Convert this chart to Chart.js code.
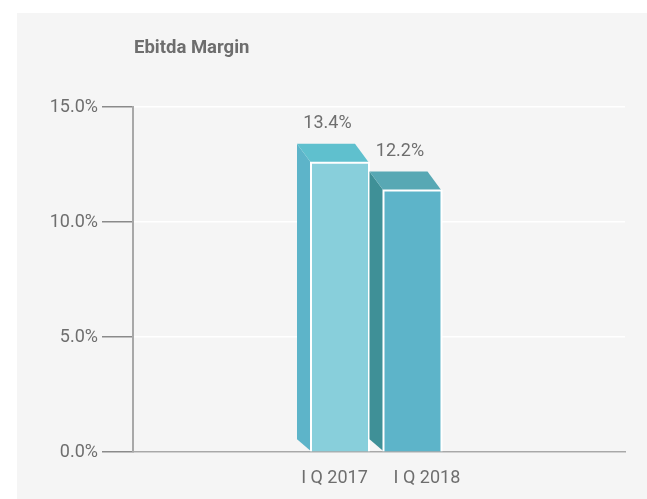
<!DOCTYPE html>
<html>
<head>
<meta charset="utf-8">
<script src="https://cdn.jsdelivr.net/npm/chart.js@4"></script>
<style>
  html, body { margin: 0; padding: 0; background: #ffffff; overflow: hidden; }
  #panel { position: absolute; left: 17px; top: 13px; width: 630px; height: 486px; background: #f5f5f5; overflow: hidden; }
  canvas { display: block; }
</style>
</head>
<body>
<div id="panel"><canvas id="c" width="630" height="492"></canvas></div>
<script>
const categories = ['I Q 2017', 'I Q 2018'];
const values = [13.4, 12.2];
const yTicks = [0, 5, 10, 15];
const titleText = 'Ebitda Margin';

const faceColors = [
  { front: '#88cfdb', top: '#5fc0ce', side: '#5db4c9' },
  { front: '#5db4c9', top: '#58a8b4', side: '#3f9097' }
];
const DX = 14, DY = 19, DYB = 12;
const textGray = '#6e6e6e';

const bar3d = {
  id: 'bar3d',
  afterLayout(chart) {
    chart.titleBlock.left = chart.chartArea.left + 1;
  },
  afterDatasetsDraw(chart) {
    const ctx = chart.ctx;
    const meta = chart.getDatasetMeta(0);
    meta.data.forEach((el, i) => {
      const c = faceColors[i % faceColors.length];
      const L = el.x - el.width / 2, R = el.x + el.width / 2;
      const ft = el.y + DY, base = el.base;
      ctx.save();
      ctx.fillStyle = c.side;
      ctx.beginPath();
      ctx.moveTo(L, ft); ctx.lineTo(L - DX, el.y); ctx.lineTo(L - DX, base - DYB); ctx.lineTo(L, base);
      ctx.closePath(); ctx.fill();
      ctx.fillStyle = c.top;
      ctx.beginPath();
      ctx.moveTo(L, ft); ctx.lineTo(L - DX, el.y); ctx.lineTo(R - DX, el.y); ctx.lineTo(R, ft);
      ctx.closePath(); ctx.fill();
      ctx.fillStyle = c.front;
      ctx.fillRect(L, ft, R - L, base - ft);
      ctx.strokeStyle = '#ffffff';
      ctx.lineWidth = 2;
      ctx.beginPath();
      ctx.moveTo(L, base); ctx.lineTo(L, ft); ctx.lineTo(R, ft); ctx.lineTo(R, base);
      ctx.stroke();
      ctx.fillStyle = textGray;
      ctx.font = '18px Roboto';
      ctx.textAlign = 'center';
      ctx.textBaseline = 'middle';
      ctx.fillText(values[i].toFixed(1) + '%', (L + R) / 2 - DX + 1.5, el.y - 20);
      ctx.restore();
    });
  }
};

new Chart(document.getElementById('c'), {
  type: 'bar',
  data: {
    datasets: [{
      data: values.map((v, i) => ({ x: i, y: v })),
      backgroundColor: 'rgba(0,0,0,0)',
      borderWidth: 0,
      barThickness: 58
    }]
  },
  options: {
    responsive: false,
    animation: false,
    layout: { padding: { left: 0, right: 22, top: 0, bottom: 0.6 } },
    plugins: {
      legend: { display: false },
      tooltip: { enabled: false },
      title: {
        display: true,
        text: titleText,
        align: 'start',
        color: textGray,
        font: { family: 'Roboto', size: 18.5, weight: 'bold' },
        padding: { top: 24.5, bottom: 47.3 }
      }
    },
    scales: {
      x: {
        type: 'linear',
        display: false,
        bounds: 'data',
        offset: false,
        min: -2.855,
        max: 3.931
      },
      xl: {
        type: 'linear',
        position: 'bottom',
        bounds: 'data',
        offset: false,
        min: -2.178,
        max: 3.141,
        afterBuildTicks: s => { s.ticks = categories.map((_, i) => ({ value: i })); },
        ticks: {
          callback: v => categories[v],
          color: textGray,
          font: { family: 'Roboto', size: 18 },
          padding: 15.4,
          maxRotation: 0,
          autoSkip: false
        },
        grid: { display: false, drawTicks: false },
        border: { display: true, color: '#a8a8a8', width: 1.5 }
      },
      y: {
        min: 0,
        max: 15,
        afterBuildTicks: s => { s.ticks = yTicks.map(v => ({ value: v })); },
        afterFit: s => { s.width = 116; },
        ticks: {
          callback: v => v.toFixed(1) + '%',
          color: textGray,
          font: { family: 'Roboto', size: 18 },
          padding: 4
        },
        grid: {
          color: '#ffffff',
          lineWidth: 1.5,
          tickLength: 31,
          tickColor: '#8a8a8a',
          tickWidth: 1.5
        },
        border: { display: true, color: '#a8a8a8', width: 2 }
      }
    }
  },
  plugins: [bar3d]
});
</script>
</body>
</html>
